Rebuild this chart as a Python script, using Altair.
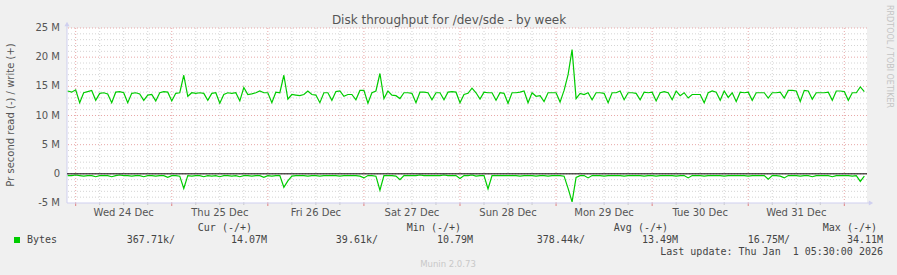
import altair as alt
import pandas as pd

# hours relative to Wed 24 Dec 00:00 (hourly samples)
hours = list(range(-2, 198))

# write throughput, MB/s (positive side)
write_mb = [
    14.2, 14.0, 14.4, 12.2, 13.9, 14.1, 14.3, 12.6, 13.8, 13.9,   # -2..7
    13.7, 12.2, 14.0, 14.1, 13.9, 12.2, 13.8, 13.9, 13.7, 12.6,   # 8..17
    13.5, 13.6, 12.5, 13.9, 14.1, 14.0, 12.5, 13.8, 13.9, 16.9,   # 18..27
    13.3, 13.9, 13.8, 13.9, 13.8, 12.6, 13.8, 13.9, 12.1, 13.6,   # 28..37
    13.9, 13.8, 13.9, 12.5, 14.8, 13.6, 13.7, 13.9, 14.2, 13.9,   # 38..47
    13.9, 12.2, 14.0, 13.9, 16.9, 12.8, 13.6, 13.5, 13.4, 13.6,   # 48..57
    14.2, 13.6, 13.5, 12.2, 13.9, 13.9, 12.6, 14.1, 14.2, 13.3,   # 58..67
    13.6, 13.6, 12.7, 14.3, 14.3, 12.1, 13.9, 14.2, 17.2, 12.9,   # 68..77
    14.2, 13.5, 13.4, 12.9, 13.9, 13.9, 13.8, 12.2, 14.0, 14.0,   # 78..87
    13.9, 12.7, 13.9, 13.9, 12.7, 14.0, 14.1, 14.0, 12.2, 13.6,   # 88..97
    13.8, 14.7, 13.9, 12.8, 14.0, 13.9, 13.9, 12.6, 13.9, 13.8,   # 98..107
    12.1, 13.9, 13.9, 14.0, 14.2, 12.2, 13.9, 13.3, 13.4, 12.4,   # 108..117
    13.9, 13.9, 13.9, 12.3, 14.3, 17.0, 21.3, 12.9, 13.8, 13.6,   # 118..127
    13.9, 12.7, 13.9, 13.9, 13.8, 12.2, 13.9, 13.9, 14.2, 12.7,   # 128..137
    13.9, 13.9, 13.8, 12.7, 14.0, 13.9, 14.0, 12.5, 13.9, 14.1,   # 138..147
    13.9, 12.7, 14.2, 13.4, 13.9, 13.0, 13.6, 13.6, 13.6, 12.2,   # 148..157
    13.9, 14.2, 14.0, 12.6, 14.2, 13.1, 13.9, 12.4, 14.0, 13.9,   # 158..167
    14.0, 12.6, 13.9, 13.9, 13.9, 13.0, 13.9, 13.9, 14.0, 13.0,   # 168..177
    14.3, 14.3, 14.2, 12.4, 14.3, 14.2, 12.8, 13.9, 13.9, 13.9,   # 178..187
    14.0, 12.6, 14.2, 14.2, 14.1, 12.6, 13.9, 13.9, 14.9, 14.1,   # 188..197
]

# read throughput, MB/s (drawn on the negative side)
read_mb = [
    0.3, 0.3, 0.2, 0.3, 0.4, 0.3, 0.3, 0.5, 0.3, 0.3,   # -2..7
    0.3, 0.5, 0.3, 0.2, 0.3, 0.3, 0.4, 0.3, 0.3, 0.5,   # 8..17
    0.3, 0.3, 0.4, 0.3, 0.3, 0.6, 0.3, 0.3, 0.4, 2.5,   # 18..27
    0.3, 0.4, 0.3, 0.3, 0.5, 0.3, 0.4, 0.3, 0.5, 0.3,   # 28..37
    0.3, 0.4, 0.3, 0.5, 0.3, 0.3, 0.4, 0.3, 0.3, 0.6,   # 38..47
    0.3, 0.4, 0.3, 0.3, 2.3, 1.2, 0.4, 0.3, 0.3, 0.3,   # 48..57
    0.4, 0.3, 0.3, 0.4, 0.3, 0.3, 0.3, 0.3, 0.4, 0.3,   # 58..67
    0.3, 0.3, 0.3, 0.4, 0.7, 0.3, 0.3, 0.4, 2.8, 0.3,   # 68..77
    0.3, 0.3, 0.4, 1.0, 0.3, 0.3, 0.3, 0.3, 0.2, 0.3,   # 78..87
    0.3, 0.3, 0.3, 0.3, 0.2, 0.3, 0.3, 0.3, 0.8, 0.3,   # 88..97
    0.3, 0.2, 0.4, 0.3, 0.3, 2.6, 0.3, 0.3, 0.3, 0.3,   # 98..107
    0.3, 0.3, 0.3, 0.4, 0.3, 0.3, 0.3, 0.4, 0.3, 0.3,   # 108..117
    0.4, 0.3, 0.3, 0.3, 0.4, 2.5, 4.8, 0.6, 0.3, 0.3,   # 118..127
    0.7, 0.3, 0.3, 0.3, 0.4, 0.3, 0.3, 0.3, 0.3, 0.4,   # 128..137
    0.3, 0.3, 0.3, 0.3, 0.4, 0.3, 0.3, 0.4, 0.3, 0.3,   # 138..147
    0.3, 0.3, 0.4, 0.3, 0.3, 0.7, 0.3, 0.3, 0.3, 0.4,   # 148..157
    0.3, 0.3, 0.3, 0.3, 0.4, 0.3, 0.3, 0.3, 0.3, 0.3,   # 158..167
    0.4, 0.3, 0.3, 0.3, 0.3, 0.9, 0.3, 0.3, 0.4, 0.7,   # 168..177
    0.3, 0.3, 0.3, 0.4, 0.3, 0.3, 0.5, 0.3, 0.3, 0.3,   # 178..187
    0.3, 0.5, 0.3, 0.3, 0.3, 0.3, 0.4, 0.3, 1.3, 0.4,   # 188..197
]

day_labels = ["Wed 24 Dec", "Thu 25 Dec", "Fri 26 Dec", "Sat 27 Dec",
              "Sun 28 Dec", "Mon 29 Dec", "Tue 30 Dec", "Wed 31 Dec"]
day_label_hours = [12, 36, 60, 84, 108, 132, 156, 180]
day_boundaries = [0, 24, 48, 72, 96, 120, 144, 168, 192]
minor_x = [h for h in range(0, 198, 6) if h % 24 != 0]
major_y = [-5, 0, 5, 10, 15, 20, 25]
major_y_labels = ["-5 M", "0", "5 M", "10 M", "15 M", "20 M", "25 M"]
minor_y = [v for v in range(-5, 26) if v % 5 != 0]

legend_headers = ["Cur (-/+)", "Min (-/+)", "Avg (-/+)", "Max (-/+)"]
legend_values = ["367.71k/", "14.07M", "39.61k/", "10.79M",
                 "378.44k/", "13.49M", "16.75M/", "34.11M"]

# ---------------- layout ----------------
L, T, W, H = 67, 28, 800, 175
XDOM = [-2.17, 197.67]
xs = alt.Scale(domain=XDOM, nice=False, zero=False)
ys = alt.Scale(domain=[-5, 25], nice=False, zero=False)
GREEN = "#00CC00"
TXT = "#555555"

one = pd.DataFrame({"a": [0]})

df_lines = pd.DataFrame({
    "t": hours * 2,
    "v": write_mb + [-r for r in read_mb],
    "s": ["write"] * len(hours) + ["read"] * len(hours),
})

def vrules(vals, color, dash):
    return alt.Chart(pd.DataFrame({"t": vals})).mark_rule(
        color=color, strokeDash=dash, strokeWidth=1
    ).encode(x=alt.X("t:Q", scale=xs, axis=None))

def hrules(vals, color, dash):
    return alt.Chart(pd.DataFrame({"v": vals})).mark_rule(
        color=color, strokeDash=dash, strokeWidth=1
    ).encode(y=alt.Y("v:Q", scale=ys, axis=None))

minor_v = vrules(minor_x, "#d4d4d4", [1, 2])
minor_h = hrules(minor_y, "#d4d4d4", [1, 2])
major_v = vrules(day_boundaries, "#e8a8a8", [1, 2])
major_h = hrules([v for v in major_y if v != -5], "#e8a8a8", [1, 2])

# invisible layers (as in the working version)
yaxis = alt.Chart(pd.DataFrame({"v": major_y})).mark_tick(opacity=0).encode(
    y=alt.Y("v:Q", scale=ys, title=None, axis=alt.Axis(
        values=major_y, grid=False, ticks=False, domain=False, labels=False)),
    x=alt.value(0),
)
xaxis = alt.Chart(pd.DataFrame({"t": day_label_hours})).mark_tick(opacity=0).encode(
    x=alt.X("t:Q", scale=xs, title=None, axis=alt.Axis(
        values=day_label_hours, grid=False, ticks=False, domain=False, labels=False)),
    y=alt.value(H),
)

def txt(s, x, y, align="left", font="DejaVu Sans Mono", size=10, color="#444444", angle=0):
    return alt.Chart(one).mark_text(
        text=s, align=align, baseline="middle", font=font, fontSize=size,
        color=color, angle=angle
    ).encode(x=alt.value(x - L), y=alt.value(y - T))

# y axis labels (positioned through the y scale)
ylabel_layers = [
    alt.Chart(one).mark_text(text=lab, align="right", baseline="middle",
                             font="DejaVu Sans", fontSize=10, color=TXT).encode(
        y=alt.datum(v, scale=ys), x=alt.value(-7))
    for v, lab in zip(major_y, major_y_labels)
]
# x axis labels (at noon of each day, through the x scale)
xlabel_layers = [
    alt.Chart(one).mark_text(text=lab, align="center", baseline="middle",
                             font="DejaVu Sans", fontSize=10, color=TXT).encode(
        x=alt.datum(h, scale=xs), y=alt.value(H + 10))
    for h, lab in zip(day_label_hours, day_labels)
]

# small ticks below the x axis
day_ticks = alt.Chart(pd.DataFrame({"t": day_boundaries})).mark_rule(color="#e08080").encode(
    x=alt.X("t:Q", scale=xs, axis=None), y=alt.value(H), y2=alt.value(H + 3))
minor_ticks = alt.Chart(pd.DataFrame({"t": minor_x})).mark_rule(color="#c8c8c8").encode(
    x=alt.X("t:Q", scale=xs, axis=None), y=alt.value(H), y2=alt.value(H + 2))

lines = alt.Chart(df_lines).mark_line(color=GREEN, strokeWidth=1.2).encode(
    x=alt.X("t:Q", scale=xs, axis=None),
    y=alt.Y("v:Q", scale=ys, axis=None),
    detail="s:N",
)

zero = alt.Chart(one).mark_rule(color="#000000", strokeWidth=1).encode(
    y=alt.datum(0, scale=ys), x=alt.value(0), x2=alt.value(W))

AX = "#cfcfef"
y_axis_line = alt.Chart(one).mark_rule(color=AX).encode(
    x=alt.value(0), y=alt.value(-4), y2=alt.value(H))
x_axis_line = alt.Chart(one).mark_rule(color=AX).encode(
    x=alt.value(0), x2=alt.value(W + 3), y=alt.value(H))
up_arrow = alt.Chart(one).mark_point(shape="triangle-up", filled=True, color=AX, size=25, opacity=1).encode(
    x=alt.value(0), y=alt.value(-4))
right_arrow = alt.Chart(one).mark_point(shape="triangle-right", filled=True, color=AX, size=25, opacity=1).encode(
    x=alt.value(W + 4), y=alt.value(H))

CH = 6.02  # mono char advance at 10px
texts = [
    txt("Disk throughput for /dev/sde - by week", 449, 20, align="center",
        font="DejaVu Sans", size=12, color=TXT),
    txt("Pr second read (-) / write (+)", 11, 115, align="center",
        font="DejaVu Sans", size=10, color=TXT, angle=270),
    txt("RRDTOOL / TOBI OETIKER", 889, 5, align="left",
        font="DejaVu Sans", size=8, color="#c4c4c4", angle=90),
    txt("Munin 2.0.73", 448, 264, align="center", font="DejaVu Sans", size=8.5, color="#c8c8c8"),
    txt("Bytes", 27, 240),
    txt("1 05:30:00 2026", 883, 252, align="right"),
    txt("Last update: Thu Jan", 883 - 17 * CH, 252, align="right"),
]
header_right = [252, 461, 668, 877]
for s, xr in zip(legend_headers, header_right):
    texts.append(txt(s, xr, 228, align="right"))
value_right = [175, 267, 378, 473, 585, 678, 790, 883]
for s, xr in zip(legend_values, value_right):
    texts.append(txt(s, xr, 240, align="right"))

legend_box = alt.Chart(one).mark_rect(color=GREEN).encode(
    x=alt.value(14 - L), x2=alt.value(20 - L), y=alt.value(237 - T), y2=alt.value(243 - T))

chart = alt.layer(
    minor_v, minor_h, major_v, major_h, yaxis, xaxis, day_ticks, minor_ticks,
    y_axis_line, x_axis_line, up_arrow, right_arrow,
    lines, zero, legend_box, *ylabel_layers, *xlabel_layers, *texts
).properties(
    width=W, height=H,
    autosize=alt.AutoSizeParams(type="none"),
    padding={"left": L, "top": T, "right": 897 - L - W, "bottom": 275 - T - H},
    background="#f0f0f0",
).configure_view(fill="#ffffff", stroke=None)

chart.save("out.html", embed_options={"renderer": "svg", "actions": False})
